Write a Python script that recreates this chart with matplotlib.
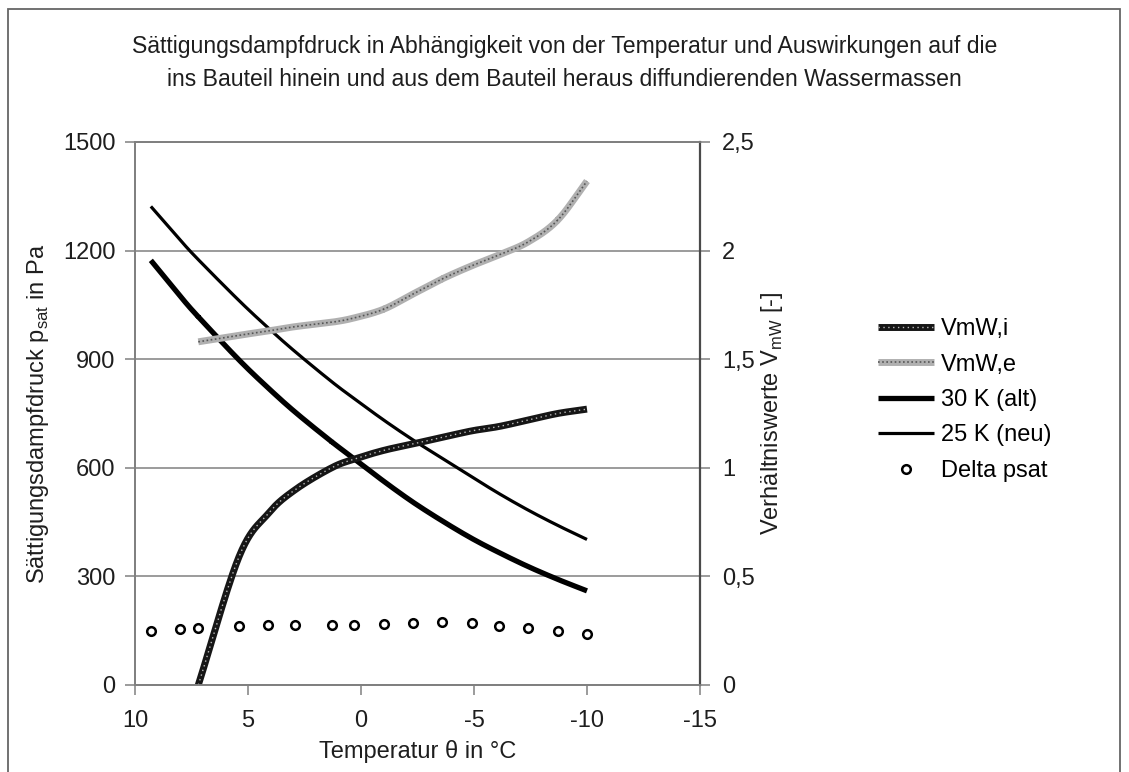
import numpy as np
import matplotlib.pyplot as plt
from matplotlib.patches import Rectangle
from matplotlib.ticker import FuncFormatter

plt.rcParams['font.family'] = ['Liberation Sans', 'DejaVu Sans']
plt.rcParams['axes.unicode_minus'] = False

# Temperatur-Stützstellen in °C
temp = [9.3, 8.0, 7.2, 5.4, 4.1, 2.9, 1.3, 0.3, -1.0, -2.3, -3.6, -4.9, -6.1, -7.4, -8.7, -10.0]
psat_alt = [1173, 1074, 1017, 898, 820, 753, 672, 625, 563, 505, 453, 405, 366, 327, 292, 260]
psat_neu = [1322, 1229, 1175, 1062, 986, 920, 838, 791, 732, 677, 626, 575, 529, 483, 441, 402]
delta_psat = [149, 155, 158, 164, 166, 167, 167, 166, 169, 172, 173, 170, 164, 157, 149, 142]

# Verhältniswerte (rechte Achse)
temp_v = [7.2, 5.4, 4.1, 2.9, 1.3, 0.3, -1.0, -2.3, -3.6, -4.9, -6.1, -7.4, -8.7, -10.0]
vmw_i = [0.0, 0.59, 0.79, 0.90, 1.00, 1.04, 1.08, 1.11, 1.14, 1.17, 1.19, 1.22, 1.25, 1.27]
vmw_e = [1.58, 1.61, 1.63, 1.65, 1.67, 1.69, 1.73, 1.80, 1.87, 1.93, 1.98, 2.04, 2.14, 2.32]


def smooth(x, y, n=24):
    # Catmull-Rom Glättung wie bei Excel "geglättete Linien"
    x = np.asarray(x, float)
    y = np.asarray(y, float)
    px = np.concatenate([[2 * x[0] - x[1]], x, [2 * x[-1] - x[-2]]])
    py = np.concatenate([[2 * y[0] - y[1]], y, [2 * y[-1] - y[-2]]])
    t = np.linspace(0, 1, n)
    xs, ys = [], []
    for i in range(1, len(px) - 2):
        for p, out in ((px, xs), (py, ys)):
            p0, p1, p2, p3 = p[i - 1], p[i], p[i + 1], p[i + 2]
            out.append(0.5 * ((2 * p1) + (-p0 + p2) * t
                              + (2 * p0 - 5 * p1 + 4 * p2 - p3) * t ** 2
                              + (-p0 + 3 * p1 - 3 * p2 + p3) * t ** 3))
    return np.concatenate(xs), np.concatenate(ys)


txtc = '#1e1e1e'
gridc = '#808080'
fs = 17

fig = plt.figure(figsize=(11.29, 7.72), dpi=100)
fig.patches.append(Rectangle((0.0068, -0.02), 0.9855, 1.008, transform=fig.transFigure,
                             fill=False, edgecolor='#666666', lw=1.3))
ax = fig.add_axes([0.1196, 0.1127, 0.5004, 0.7034])
ax2 = ax.twinx()

ax.set_xlim(10, -15)
ax.set_ylim(0, 1500)
ax2.set_ylim(0, 2.5)
ax.set_xticks([10, 5, 0, -5, -10, -15])
ax.set_yticks(range(0, 1501, 300))
ax2.set_yticks([0, 0.5, 1, 1.5, 2, 2.5])
ax2.yaxis.set_major_formatter(FuncFormatter(lambda v, p: ('%g' % v).replace('.', ',')))
ax.yaxis.grid(True, color=gridc, lw=1.1)
ax.set_axisbelow(True)
for a in (ax, ax2):
    for s in a.spines.values():
        s.set_color(gridc)
        s.set_linewidth(1.3)
    a.tick_params(labelcolor=txtc, labelsize=fs, length=7, width=1.1,
                  direction='out', color=gridc)
ax2.spines['right'].set_color('#4a4a4a')
ax2.spines['right'].set_linewidth(1.6)
ax.tick_params(axis='x', pad=11)
ax.tick_params(axis='y', pad=7)
ax2.tick_params(axis='y', pad=9)

# Linien
x, y = smooth(temp, psat_alt)
l_alt, = ax.plot(x, y, color='black', lw=3.8, solid_capstyle='butt')
x, y = smooth(temp, psat_neu)
l_neu, = ax.plot(x, y, color='black', lw=2.3, solid_capstyle='butt')
l_delta, = ax.plot(temp, delta_psat, ls='none', marker='o', ms=6.2, mfc='white',
                   mec='black', mew=1.8)

x, y = smooth(temp_v, vmw_i)
li_a, = ax2.plot(x, y, color='#161616', lw=5, solid_capstyle='butt')
li_b, = ax2.plot(x, y, color='#bbbbbb', lw=1, ls=(0, (1, 2.5)))
x, y = smooth(temp_v, vmw_e)
le_a, = ax2.plot(x, y, color='#b0b0b0', lw=5, solid_capstyle='butt')
le_b, = ax2.plot(x, y, color='#555555', lw=1.2, ls=(0, (1, 1.5)))

ax.set_xlabel('Temperatur θ in °C', fontsize=fs, color=txtc, labelpad=6)
ax.set_ylabel(r'Sättigungsdampfdruck p$_\mathregular{sat}$ in Pa', fontsize=fs,
              color=txtc, labelpad=9)
ax2.set_ylabel(r'Verhältniswerte V$_\mathregular{mW}$ [-]', fontsize=fs,
               color=txtc, labelpad=3)

fig.text(0.5, 1 - 53 / 772, 'Sättigungsdampfdruck in Abhängigkeit von der Temperatur und Auswirkungen auf die',
         ha='center', va='baseline', fontsize=16.6, color=txtc)
fig.text(0.5, 1 - 86 / 772, 'ins Bauteil hinein und aus dem Bauteil heraus diffundierenden Wassermassen',
         ha='center', va='baseline', fontsize=16.6, color=txtc)

fig.legend([(li_a, li_b), (le_a, le_b), l_alt, l_neu, l_delta],
           ['VmW,i', 'VmW,e', '30 K (alt)', '25 K (neu)', 'Delta psat'],
           loc='upper left', bbox_to_anchor=(0.7777, 0.588), frameon=False,
           borderpad=0, borderaxespad=0, fontsize=fs, handlelength=2.35,
           labelspacing=0.57, handletextpad=0.3)

fig.savefig('out.png', dpi=100)
